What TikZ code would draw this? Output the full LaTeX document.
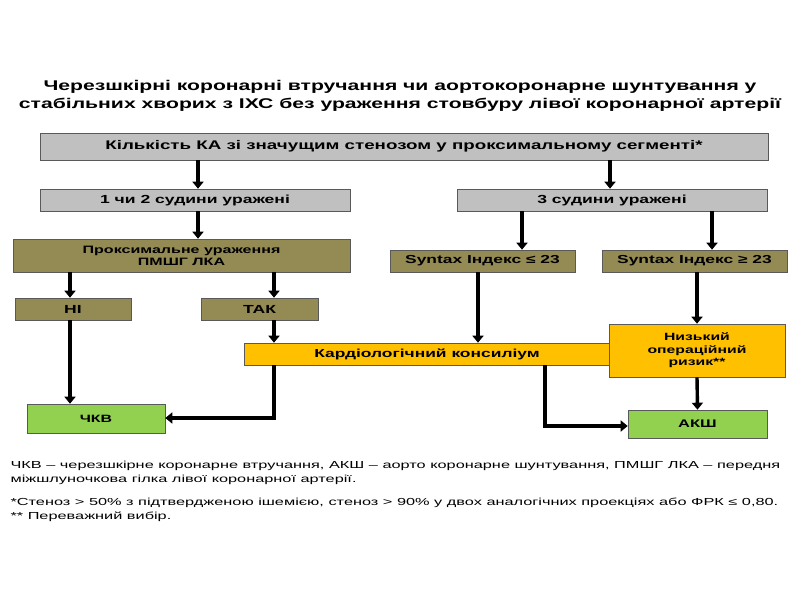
\documentclass[tikz,border=0pt]{standalone}
\usepackage{fontspec}
\setmainfont{Liberation Sans}[FakeStretch=1.5]
\newfontfamily\fnfont{Liberation Sans}[FakeStretch=1.6]
\usetikzlibrary{arrows.meta}
\definecolor{boxgray}{HTML}{C0C0C0}
\definecolor{olive}{HTML}{948A54}
\definecolor{gold}{HTML}{FFC000}
\definecolor{lgreen}{HTML}{92D050}
\begin{document}
\begin{tikzpicture}[x=1pt,y=-1pt,
  bx/.style={draw=gray!70!black,line width=0.6pt,inner sep=0pt,align=center,font=\bfseries\fontsize{11.7}{13}\selectfont},
  grayb/.style={bx,fill=boxgray},
  oliveb/.style={bx,fill=olive},
  goldb/.style={bx,fill=gold},
  greenb/.style={bx,fill=lgreen},
  arr/.style={line width=3.4pt,-{Triangle[length=7pt,width=11pt]}},
]
\useasboundingbox (0,0) rectangle (800,600);
\fill[white] (0,0) rectangle (800,600);
% title
\node[align=center,font=\bfseries\fontsize{14.1}{17.5}\selectfont] (title) at (400,96)
  {Черезшкірні коронарні втручання чи аортокоронарне шунтування у\\стабільних хворих з ІХС без ураження стовбуру лівої коронарної артерії};
% boxes
\node[grayb,minimum width=728,minimum height=27,font=\bfseries\fontsize{12.5}{15}\selectfont] (top) at (404,146.5) {Кількість КА зі значущим стенозом у проксимальному сегменті*};
\node[grayb,minimum width=310,minimum height=22] (one) at (195,200) {1 чи 2 судини уражені};
\node[grayb,minimum width=310,minimum height=22] (three) at (612,200) {3 судини уражені};
\node[oliveb,minimum width=337,minimum height=33,font=\bfseries\fontsize{10.7}{12}\selectfont] (prox) at (181.5,255.5) {Проксимальне ураження\\ПМШГ ЛКА};
\node[oliveb,minimum width=185,minimum height=22,font=\bfseries\fontsize{11.6}{13}\selectfont] (slow) at (482.5,261) {Syntax Індекс ≤ 23};
\node[oliveb,minimum width=185,minimum height=22,font=\bfseries\fontsize{11.6}{13}\selectfont] (shigh) at (694.5,261) {Syntax Індекс ≥ 23};
\node[oliveb,minimum width=116,minimum height=22] (ni) at (73,309) {НІ};
\node[oliveb,minimum width=117,minimum height=22] (tak) at (259.5,309) {ТАК};
\node[goldb,minimum width=365,minimum height=22,font=\bfseries\fontsize{11.6}{13}\selectfont] (cons) at (427,354) {Кардіологічний консиліум};
\node[goldb,minimum width=176,minimum height=53,font=\bfseries\fontsize{10.5}{12.5}\selectfont] (risk) at (697,350.5) {Низький\\операційний\\ризик**};
\node[greenb,minimum width=138,minimum height=29,font=\bfseries\fontsize{10.6}{12}\selectfont] (pci) at (96,418.5) {ЧКВ};
\node[greenb,minimum width=139,minimum height=28,font=\bfseries\fontsize{11}{12}\selectfont] (cabg) at (697.5,424) {АКШ};
% connectors
\draw[arr] (top.south -| 198,0) -- (one.north -| 198,0);
\draw[arr] (top.south -| 610,0) -- (three.north -| 610,0);
\draw[arr] (one.south -| 198,0) -- (prox.north -| 198,0);
\draw[arr] (three.south -| 522,0) -- (slow.north -| 522,0);
\draw[arr] (three.south -| 712,0) -- (shigh.north -| 712,0);
\draw[arr] (prox.south -| 70,0) -- (ni.north -| 70,0);
\draw[arr] (prox.south -| 274,0) -- (tak.north -| 274,0);
\draw[arr] (ni.south -| 70,0) -- (pci.north -| 70,0);
\draw[arr] (tak.south -| 274,0) -- (cons.north -| 274,0);
\draw[arr] (slow.south -| 478,0) -- (cons.north -| 478,0);
\draw[arr] (shigh.south -| 697,0) -- (risk.north -| 697,0);
\draw[arr] (risk.south) -- (cabg.north);
\draw[arr] (cons.south -| 274,0) |- (pci.east |- 0,418);
\draw[arr] (cons.south -| 545,0) |- (cabg.west |- 0,426);
% footnotes
\node[anchor=west,align=left,font=\fnfont\fontsize{10.2}{14}\selectfont] (fn1) at (7,473)
  {ЧКВ – черезшкірне коронарне втручання, АКШ – аорто коронарне шунтування, ПМШГ ЛКА – передня\\міжшлуночкова гілка лівої коронарної артерії.};
\node[anchor=west,align=left,font=\fnfont\fontsize{10.2}{14}\selectfont] (fn2) at (7,510)
  {*Стеноз > 50\% з підтвердженою ішемією, стеноз > 90\% у двох аналогічних проекціях або ФРК ≤ 0,80.\\** Переважний вибір.};
\end{tikzpicture}
\end{document}
